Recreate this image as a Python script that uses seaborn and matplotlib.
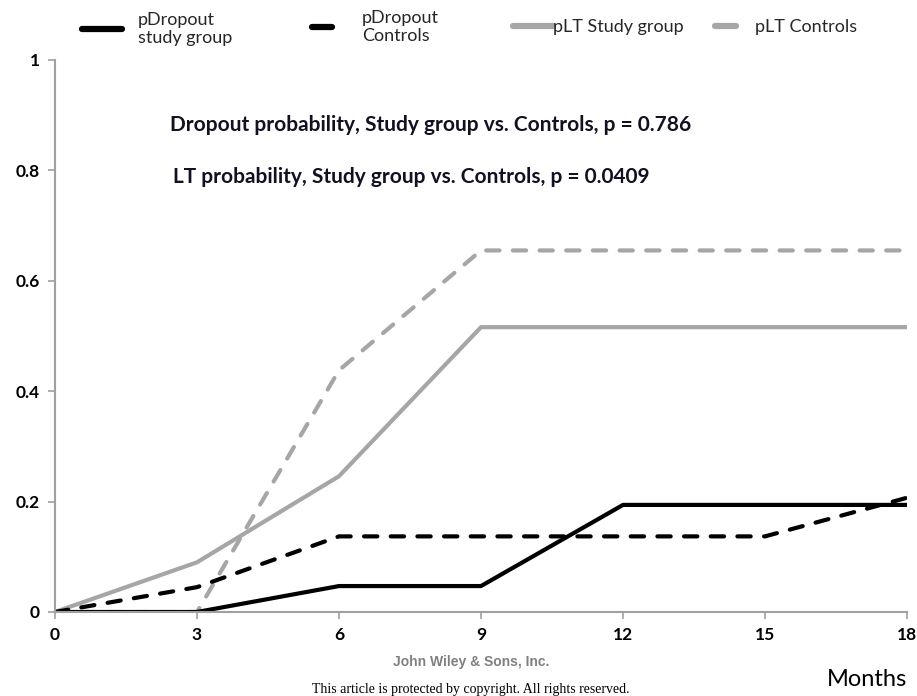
import numpy as np
import pandas as pd
import matplotlib
matplotlib.use("Agg")
import matplotlib.pyplot as plt
import seaborn as sns
from matplotlib.lines import Line2D

months = [0, 3, 6, 9, 12, 15, 18]
p_dropout_study = [0, 0, 0.047, 0.047, 0.194, 0.194, 0.194]
p_dropout_controls = [0, 0.045, 0.137, 0.137, 0.137, 0.137, 0.207]
p_lt_study = [0, 0.090, 0.246, 0.516, 0.516, 0.516, 0.516]
p_lt_controls = [0, 0, 0.438, 0.655, 0.655, 0.655, 0.655]
series_labels = ["pDropout\nstudy group", "pDropout\nControls", "pLT Study group", "pLT Controls"]
x_ticks = [0, 3, 6, 9, 12, 15, 18]
y_ticks = [0, 0.2, 0.4, 0.6, 0.8, 1]
y_ticklabels = ["0", "0.2", "0.4", "0.6", "0.8", "1"]

sns.set_style("white")
plt.rcParams['font.family'] = ['Lato', 'DejaVu Sans']

frames = []
for lab, vals in zip(series_labels, [p_dropout_study, p_dropout_controls, p_lt_study, p_lt_controls]):
    frames.append(pd.DataFrame({"Months": months, "p": vals, "series": lab}))
df = pd.concat(frames, ignore_index=True)

fig = plt.figure(figsize=(9.17, 6.96), dpi=100)
ax = fig.add_axes([55/917, 1-612/696, (907-55)/917, (612-60)/696])

gray = "#a6a6a6"
palette = {series_labels[0]: "black", series_labels[1]: "black",
           series_labels[2]: gray, series_labels[3]: gray}
dashes = {series_labels[0]: "", series_labels[1]: (3.2, 3.2),
          series_labels[2]: "", series_labels[3]: (3.2, 3.2)}
order = [series_labels[3], series_labels[2], series_labels[1], series_labels[0]]
sns.lineplot(data=df, x="Months", y="p", hue="series", style="series",
             palette=palette, dashes=dashes, hue_order=order, style_order=order,
             linewidth=3, ax=ax, legend=False)
for ln in ax.get_lines():
    ln.set_dash_capstyle("round")
    ln.set_solid_capstyle("butt")

ax.set_xlim(0, 18)
ax.set_ylim(0, 1)
ax.set_xticks(x_ticks)
ax.set_xticklabels([str(t) for t in x_ticks], fontsize=12.5, fontweight="bold")
ax.set_yticks(y_ticks)
ax.set_yticklabels(y_ticklabels, fontsize=12.5, fontweight="bold")
ax.set_xlabel("")
ax.set_ylabel("")
for s in ["top", "right"]:
    ax.spines[s].set_visible(False)
for s in ["left", "bottom"]:
    ax.spines[s].set_color("#a0a0a0")
    ax.spines[s].set_linewidth(1.5)
ax.tick_params(axis="both", direction="out", length=5, width=1.2, color="#a0a0a0",
               labelcolor="black", pad=6)
ax.tick_params(axis="y", left=True)
ax.tick_params(axis="x", bottom=True)

ax.text(431/917, 1-125/696, "Dropout probability, Study group vs. Controls, p = 0.786",
        transform=fig.transFigure, ha="center", va="center", fontsize=15,
        fontweight="bold", color="#111122")
ax.text(173/917, 1-177/696, "LT probability, Study group vs. Controls, p = 0.0409",
        transform=fig.transFigure, ha="left", va="center", fontsize=15,
        fontweight="bold", color="#111122")

# legend: one entry per legend, placed like the reference
fs = 13
fpx = fs * 100 / 72
handles = [
    Line2D([0], [0], color="black", lw=4.5, solid_capstyle="round"),
    Line2D([0], [0], color="black", lw=4.5, solid_capstyle="round"),
    Line2D([0], [0], color=gray, lw=4.5),
    Line2D([0], [0], color=gray, lw=4.5, solid_capstyle="round"),
]
specs = [(82, 40, 16, 29), (312, 20, 30, 27), (513, 40, 0, 27), (715, 21, 19, 27)]
for h, lab, (x0, hl, gap, yc) in zip(handles, series_labels, specs):
    fig.legend([h], [lab], loc="center left", bbox_to_anchor=(x0/917, 1-yc/696),
               frameon=False, fontsize=fs, handlelength=hl/fpx, handletextpad=gap/fpx,
               borderpad=0, borderaxespad=0, labelspacing=0)

fig.text(471/917, 1-662/696, "John Wiley & Sons, Inc.", ha="center", va="center",
         fontsize=10, color="#808080", fontweight="bold", family=["Liberation Sans"])
fig.text(471/917, 1-689/696, "This article is protected by copyright. All rights reserved.",
         ha="center", va="center", fontsize=10, color="black", family=["Liberation Serif"])
fig.text(867/917, 1-679/696, "Months", ha="center", va="center", fontsize=17, color="black")

fig.savefig("out.png", dpi=100)
